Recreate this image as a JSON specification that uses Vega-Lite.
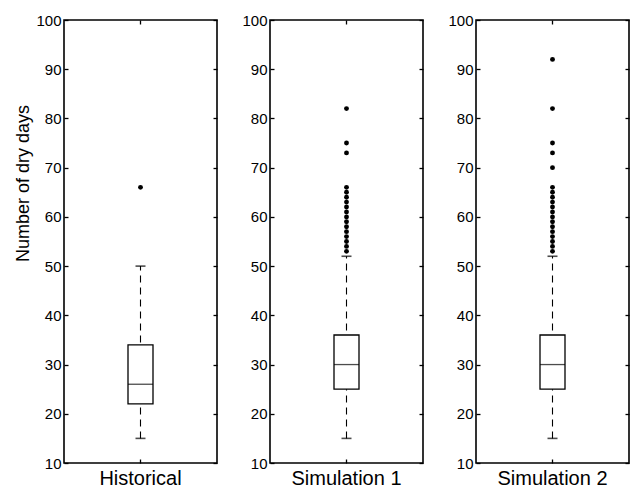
{
  "$schema": "https://vega.github.io/schema/vega-lite/v6.json",
  "background": "white",
  "padding": {"left": 14, "top": 12, "right": 0, "bottom": 0},
  "config": {
    "view": {"stroke": "black", "strokeWidth": 1.6},
    "font": "Liberation Sans",
    "axis": {"grid": false, "domain": false, "tickColor": "black", "tickWidth": 1.3, "labelColor": "black", "titleColor": "black", "labelFont": "Liberation Sans", "titleFont": "Liberation Sans", "offset": -4, "tickSize": 4}
  },
  "datasets": {
    "stats": [
      {"group": "Historical", "lo": 15, "q1": 22, "med": 26, "q3": 34, "hi": 50},
      {"group": "Simulation 1", "lo": 15, "q1": 25, "med": 30, "q3": 36, "hi": 52},
      {"group": "Simulation 2", "lo": 15, "q1": 25, "med": 30, "q3": 36, "hi": 52}
    ],
    "outliers": [
      {"group": "Historical", "v": 66},
      {"group": "Simulation 1", "v": 53}, {"group": "Simulation 1", "v": 54}, {"group": "Simulation 1", "v": 55}, {"group": "Simulation 1", "v": 56}, {"group": "Simulation 1", "v": 57}, {"group": "Simulation 1", "v": 58}, {"group": "Simulation 1", "v": 59}, {"group": "Simulation 1", "v": 60}, {"group": "Simulation 1", "v": 61}, {"group": "Simulation 1", "v": 62}, {"group": "Simulation 1", "v": 63}, {"group": "Simulation 1", "v": 64}, {"group": "Simulation 1", "v": 65}, {"group": "Simulation 1", "v": 66}, {"group": "Simulation 1", "v": 73}, {"group": "Simulation 1", "v": 75}, {"group": "Simulation 1", "v": 82},
      {"group": "Simulation 2", "v": 53}, {"group": "Simulation 2", "v": 54}, {"group": "Simulation 2", "v": 55}, {"group": "Simulation 2", "v": 56}, {"group": "Simulation 2", "v": 57}, {"group": "Simulation 2", "v": 58}, {"group": "Simulation 2", "v": 59}, {"group": "Simulation 2", "v": 60}, {"group": "Simulation 2", "v": 61}, {"group": "Simulation 2", "v": 62}, {"group": "Simulation 2", "v": 63}, {"group": "Simulation 2", "v": 64}, {"group": "Simulation 2", "v": 65}, {"group": "Simulation 2", "v": 66}, {"group": "Simulation 2", "v": 70}, {"group": "Simulation 2", "v": 73}, {"group": "Simulation 2", "v": 75}, {"group": "Simulation 2", "v": 82}, {"group": "Simulation 2", "v": 92}
    ]
  },
  "hconcat": [
    {
      "width": 153, "height": 443,
      "layer": [
        {"data": {"name": "stats"}, "transform": [{"filter": "datum.group === 'Historical'"}],
         "mark": {"type": "rule", "color": "black", "strokeDash": [7, 5], "strokeWidth": 1.1},
         "encoding": {
           "x": {"field": "group", "type": "nominal", "axis": {"title": null, "labelAngle": 0, "labelPadding": 5, "labelFontSize": 20}},
           "y": {"field": "lo", "type": "quantitative", "scale": {"domain": [10, 100], "nice": false}, "axis": {"title": "Number of dry days", "titleFontSize": 18, "titleFontWeight": "normal", "titleY": 163, "titlePadding": 3, "values": [10,20,30,40,50,60,70,80,90,100], "labelPadding": 3, "labelFontSize": 15}},
           "y2": {"field": "hi"}}},
        {"data": {"name": "stats"}, "transform": [{"filter": "datum.group === 'Historical'"}],
         "mark": {"type": "bar", "size": 25, "fill": "white", "stroke": "black", "strokeWidth": 1.3},
         "encoding": {"x": {"field": "group", "type": "nominal", "axis": null}, "y": {"field": "q1", "type": "quantitative", "axis": null}, "y2": {"field": "q3"}}},
        {"data": {"name": "stats"}, "transform": [{"filter": "datum.group === 'Historical'"}],
         "mark": {"type": "tick", "size": 25, "color": "black", "thickness": 1.3},
         "encoding": {"x": {"field": "group", "type": "nominal", "axis": null}, "y": {"field": "med", "type": "quantitative", "axis": null}}},
        {"data": {"name": "stats"}, "transform": [{"filter": "datum.group === 'Historical'"}],
         "mark": {"type": "tick", "size": 10, "color": "black", "thickness": 1.6},
         "encoding": {"x": {"field": "group", "type": "nominal", "axis": null}, "y": {"field": "lo", "type": "quantitative", "axis": null}}},
        {"data": {"name": "stats"}, "transform": [{"filter": "datum.group === 'Historical'"}],
         "mark": {"type": "tick", "size": 10, "color": "black", "thickness": 1.6},
         "encoding": {"x": {"field": "group", "type": "nominal", "axis": null}, "y": {"field": "hi", "type": "quantitative", "axis": null}}},
        {"data": {"name": "outliers"}, "transform": [{"filter": "datum.group === 'Historical'"}],
         "mark": {"type": "point", "filled": true, "color": "black", "size": 24, "opacity": 1},
         "encoding": {"x": {"field": "group", "type": "nominal", "axis": {"orient": "top", "labels": false, "title": null}}, "y": {"field": "v", "type": "quantitative", "axis": {"orient": "right", "labels": false, "title": null, "values": [10,20,30,40,50,60,70,80,90,100]}}}}
      ],
      "resolve": {"axis": {"x": "independent", "y": "independent"}}
    },
    {
      "width": 153, "height": 443,
      "layer": [
        {"data": {"name": "stats"}, "transform": [{"filter": "datum.group === 'Simulation 1'"}],
         "mark": {"type": "rule", "color": "black", "strokeDash": [7, 5], "strokeWidth": 1.1},
         "encoding": {
           "x": {"field": "group", "type": "nominal", "axis": {"title": null, "labelAngle": 0, "labelPadding": 5, "labelFontSize": 20}},
           "y": {"field": "lo", "type": "quantitative", "scale": {"domain": [10, 100], "nice": false}, "axis": {"title": null, "values": [10,20,30,40,50,60,70,80,90,100], "labelPadding": 3, "labelFontSize": 15}},
           "y2": {"field": "hi"}}},
        {"data": {"name": "stats"}, "transform": [{"filter": "datum.group === 'Simulation 1'"}],
         "mark": {"type": "bar", "size": 25, "fill": "white", "stroke": "black", "strokeWidth": 1.3},
         "encoding": {"x": {"field": "group", "type": "nominal", "axis": null}, "y": {"field": "q1", "type": "quantitative", "axis": null}, "y2": {"field": "q3"}}},
        {"data": {"name": "stats"}, "transform": [{"filter": "datum.group === 'Simulation 1'"}],
         "mark": {"type": "tick", "size": 25, "color": "black", "thickness": 1.3},
         "encoding": {"x": {"field": "group", "type": "nominal", "axis": null}, "y": {"field": "med", "type": "quantitative", "axis": null}}},
        {"data": {"name": "stats"}, "transform": [{"filter": "datum.group === 'Simulation 1'"}],
         "mark": {"type": "tick", "size": 10, "color": "black", "thickness": 1.6},
         "encoding": {"x": {"field": "group", "type": "nominal", "axis": null}, "y": {"field": "lo", "type": "quantitative", "axis": null}}},
        {"data": {"name": "stats"}, "transform": [{"filter": "datum.group === 'Simulation 1'"}],
         "mark": {"type": "tick", "size": 10, "color": "black", "thickness": 1.6},
         "encoding": {"x": {"field": "group", "type": "nominal", "axis": null}, "y": {"field": "hi", "type": "quantitative", "axis": null}}},
        {"data": {"name": "outliers"}, "transform": [{"filter": "datum.group === 'Simulation 1'"}],
         "mark": {"type": "point", "filled": true, "color": "black", "size": 24, "opacity": 1},
         "encoding": {"x": {"field": "group", "type": "nominal", "axis": {"orient": "top", "labels": false, "title": null}}, "y": {"field": "v", "type": "quantitative", "axis": {"orient": "right", "labels": false, "title": null, "values": [10,20,30,40,50,60,70,80,90,100]}}}}
      ],
      "resolve": {"axis": {"x": "independent", "y": "independent"}}
    },
    {
      "width": 153, "height": 443,
      "layer": [
        {"data": {"name": "stats"}, "transform": [{"filter": "datum.group === 'Simulation 2'"}],
         "mark": {"type": "rule", "color": "black", "strokeDash": [7, 5], "strokeWidth": 1.1},
         "encoding": {
           "x": {"field": "group", "type": "nominal", "axis": {"title": null, "labelAngle": 0, "labelPadding": 5, "labelFontSize": 20}},
           "y": {"field": "lo", "type": "quantitative", "scale": {"domain": [10, 100], "nice": false}, "axis": {"title": null, "values": [10,20,30,40,50,60,70,80,90,100], "labelPadding": 3, "labelFontSize": 15}},
           "y2": {"field": "hi"}}},
        {"data": {"name": "stats"}, "transform": [{"filter": "datum.group === 'Simulation 2'"}],
         "mark": {"type": "bar", "size": 25, "fill": "white", "stroke": "black", "strokeWidth": 1.3},
         "encoding": {"x": {"field": "group", "type": "nominal", "axis": null}, "y": {"field": "q1", "type": "quantitative", "axis": null}, "y2": {"field": "q3"}}},
        {"data": {"name": "stats"}, "transform": [{"filter": "datum.group === 'Simulation 2'"}],
         "mark": {"type": "tick", "size": 25, "color": "black", "thickness": 1.3},
         "encoding": {"x": {"field": "group", "type": "nominal", "axis": null}, "y": {"field": "med", "type": "quantitative", "axis": null}}},
        {"data": {"name": "stats"}, "transform": [{"filter": "datum.group === 'Simulation 2'"}],
         "mark": {"type": "tick", "size": 10, "color": "black", "thickness": 1.6},
         "encoding": {"x": {"field": "group", "type": "nominal", "axis": null}, "y": {"field": "lo", "type": "quantitative", "axis": null}}},
        {"data": {"name": "stats"}, "transform": [{"filter": "datum.group === 'Simulation 2'"}],
         "mark": {"type": "tick", "size": 10, "color": "black", "thickness": 1.6},
         "encoding": {"x": {"field": "group", "type": "nominal", "axis": null}, "y": {"field": "hi", "type": "quantitative", "axis": null}}},
        {"data": {"name": "outliers"}, "transform": [{"filter": "datum.group === 'Simulation 2'"}],
         "mark": {"type": "point", "filled": true, "color": "black", "size": 24, "opacity": 1},
         "encoding": {"x": {"field": "group", "type": "nominal", "axis": {"orient": "top", "labels": false, "title": null}}, "y": {"field": "v", "type": "quantitative", "axis": {"orient": "right", "labels": false, "title": null, "values": [10,20,30,40,50,60,70,80,90,100]}}}}
      ],
      "resolve": {"axis": {"x": "independent", "y": "independent"}}
    }
  ],
  "spacing": 53,
  "bounds": "flush"
}
